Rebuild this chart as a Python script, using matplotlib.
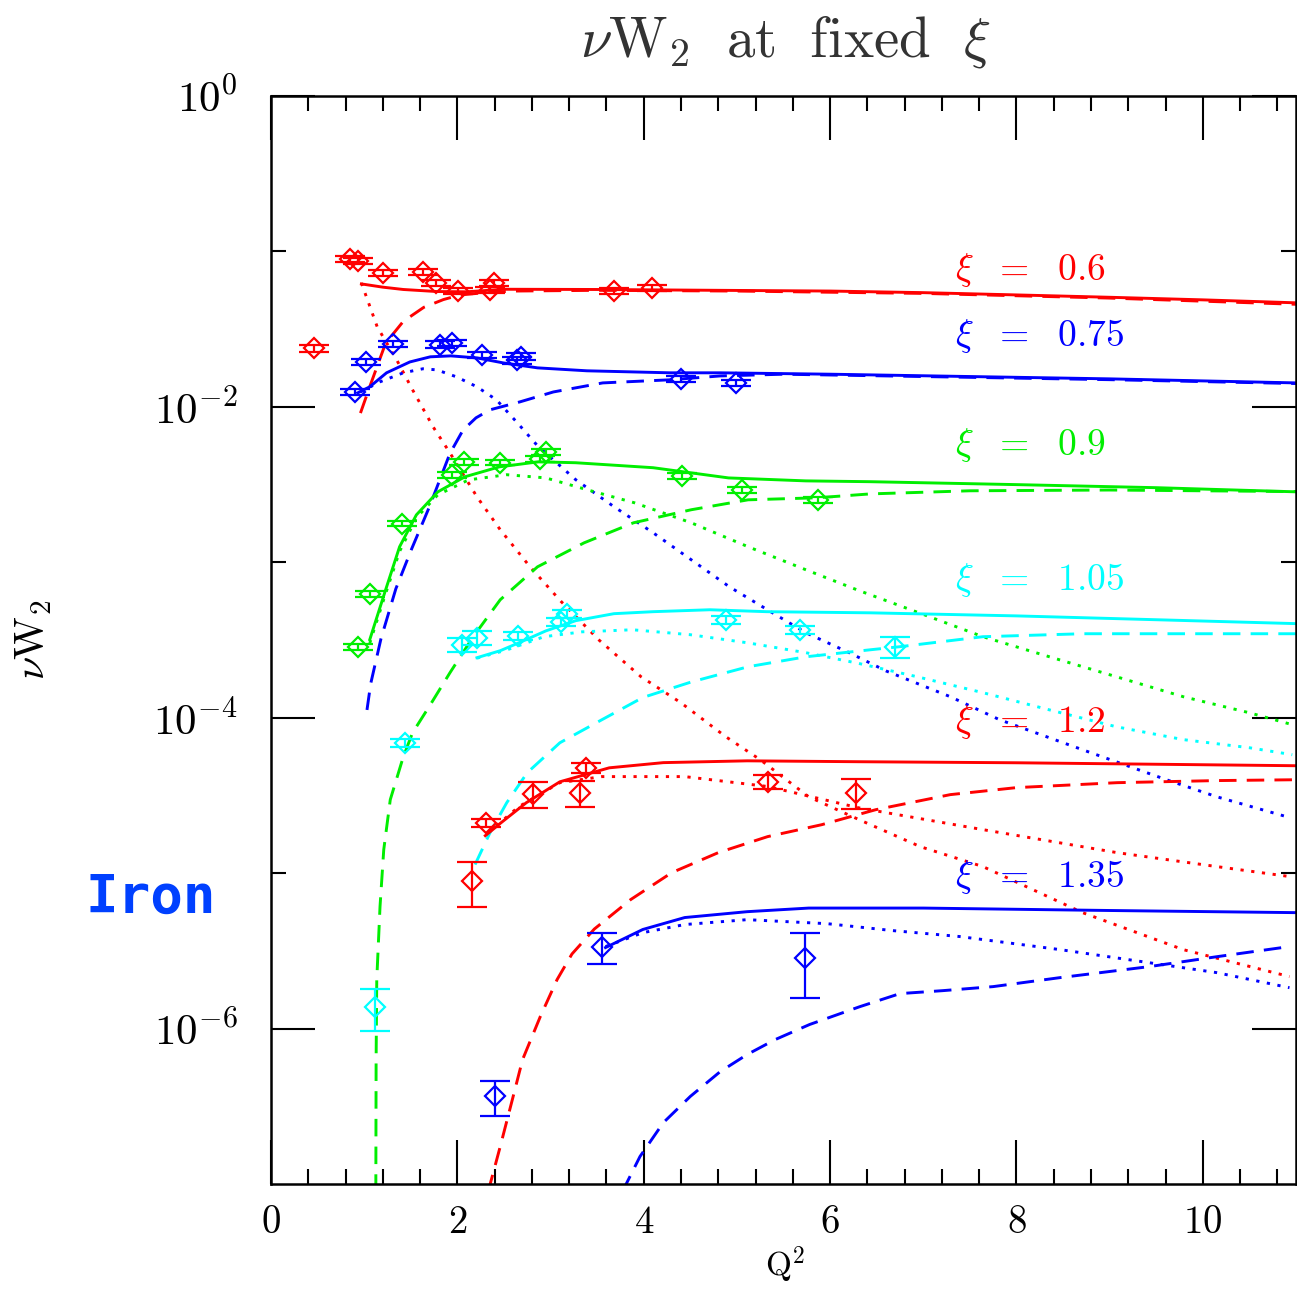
import matplotlib
matplotlib.use("Agg")
import matplotlib.pyplot as plt
from matplotlib.ticker import MultipleLocator, FixedLocator, NullFormatter

plt.rcParams["mathtext.fontset"] = "cm"

RED, BLUE, GREEN, CYAN = "#ff0000", "#0000ff", "#00ee00", "#00ffff"

# ---- data points (Q^2, nu W2, relative error) ----
x_06 = [0.46, 0.85, 0.93, 1.20, 1.63, 1.77, 2.01, 2.35, 2.39, 3.68, 4.09]
y_06 = [0.0239, 0.0895, 0.0869, 0.0728, 0.0738, 0.0627, 0.0557, 0.0565, 0.0627, 0.0557, 0.0582]
e_06 = [0.05] * 11

x_075 = [0.90, 1.02, 1.31, 1.81, 1.94, 2.26, 2.64, 2.68, 4.40, 4.99]
y_075 = [0.01248, 0.01946, 0.0254, 0.0251, 0.0258, 0.0216, 0.0200, 0.0210, 0.01514, 0.01426]
e_075 = [0.05] * 10

x_09 = [0.93, 1.06, 1.41, 1.94, 2.07, 2.46, 2.89, 2.95, 4.41, 5.05, 5.87]
y_09 = [2.86e-4, 6.27e-4, 1.77e-3, 3.65e-3, 4.43e-3, 4.37e-3, 4.63e-3, 5.14e-3, 3.60e-3, 2.92e-3, 2.52e-3]
e_09 = [0.04] * 11

x_105 = [1.12, 1.44, 2.05, 2.21, 2.65, 3.11, 3.18, 4.88, 5.68, 6.70]
y_105 = [1.38e-6, 6.9e-5, 2.94e-4, 3.27e-4, 3.37e-4, 4.14e-4, 4.67e-4, 4.27e-4, 3.68e-4, 2.86e-4]
e_105 = [0.30, 0.06, 0.10, 0.10, 0.06, 0.06, 0.06, 0.06, 0.06, 0.15]

x_12 = [2.16, 2.31, 2.81, 3.32, 3.38, 5.33, 6.28]
y_12 = [8.95e-6, 2.11e-5, 3.24e-5, 3.30e-5, 4.77e-5, 3.87e-5, 3.30e-5]
e_12 = [0.32, 0.06, 0.19, 0.19, 0.07, 0.10, 0.22]

x_135 = [2.40, 3.55, 5.73]
y_135 = [3.66e-7, 3.37e-6, 2.86e-6]
e_135 = [0.25, 0.23, 0.45]

# ---- model curves: solid = total, dotted / dashed = components ----
s06_x = [0.97, 1.2, 1.42, 1.78, 2.1, 2.5, 3.5, 4.8, 6, 7, 8, 9, 10, 11]
s06_y = [0.0618, 0.0589, 0.0569, 0.0552, 0.0550, 0.0571, 0.0569, 0.0562, 0.0556,
         0.0543, 0.0525, 0.0507, 0.0488, 0.0467]
d06_x = [0.96, 1.06, 1.23, 1.42, 1.64, 1.85, 2.03, 2.3, 2.6, 3.5, 5, 7, 9, 11]
d06_y = [0.00912, 0.01349, 0.0257, 0.0355, 0.0437, 0.0490, 0.0525, 0.0543, 0.0556,
         0.0562, 0.0556, 0.0537, 0.0501, 0.0457]
o06_x = [0.97, 1.14, 1.35, 1.52, 1.74, 1.92, 2.21, 2.46, 2.78, 3.11, 3.52, 3.97, 4.40,
         4.88, 5.25, 5.77, 6.31, 6.97, 7.64, 8.71, 9.79, 10.93]
o06_y = [0.0627, 0.0327, 0.0200, 0.01285, 0.00743, 0.00506, 0.00264, 0.00162, 9.35e-4,
         5.62e-4, 3.16e-4, 1.837e-4, 1.247e-4, 7.55e-5, 5.37e-5, 3.10e-5, 2.21e-5,
         1.479e-5, 1.102e-5, 5.57e-6, 3.22e-6, 2.16e-6]

s075_x = [0.93, 1.06, 1.24, 1.49, 1.71, 1.93, 2.21, 2.49, 2.86, 3.39, 4.28, 4.82, 6, 7, 8, 9, 10, 11]
s075_y = [0.01230, 0.01346, 0.01656, 0.01945, 0.02099, 0.02128, 0.02065, 0.01919, 0.01782,
          0.01706, 0.01656, 0.01656, 0.01622, 0.01585, 0.01549, 0.01514, 0.01469, 0.01426]
d075_x = [1.03, 1.07, 1.18, 1.34, 1.51, 1.70, 1.92, 2.06, 2.2, 2.35, 2.67, 3.03, 3.56,
          4.28, 4.82, 5.5, 7, 9, 11]
d075_y = [1.122e-4, 1.656e-4, 3.22e-4, 6.76e-4, 1.222e-3, 2.275e-3, 5.01e-3, 7.08e-3,
          8.5e-3, 9.57e-3, 0.01076, 0.01247, 0.01426, 0.01493, 0.01581, 0.01622,
          0.01567, 0.01496, 0.01413]
o075_x = [0.96, 1.17, 1.42, 1.63, 1.78, 1.99, 2.21, 2.42, 2.64, 2.86, 3.27, 3.68, 4.10,
          4.51, 4.92, 5.33, 5.74, 6.2, 6.6, 7.29, 7.82, 8.71, 9.61, 10.15, 10.93]
o075_y = [0.01247, 0.01449, 0.01656, 0.01758, 0.01730, 0.01560, 0.01346, 0.01109, 0.00794,
          0.00562, 0.00340, 0.00228, 0.00155, 1.038e-3, 6.95e-4, 4.94e-4, 3.52e-4,
          2.63e-4, 2.00e-4, 1.365e-4, 9.70e-5, 6.22e-5, 3.99e-5, 3.10e-5, 2.28e-5]

s09_x = [1.06, 1.22, 1.38, 1.56, 1.79, 2.08, 2.45, 2.87, 3.27, 4.10, 4.91, 5.74, 6.43, 8, 9.5, 11]
s09_y = [3.18e-4, 6.37e-4, 1.259e-3, 2.018e-3, 2.838e-3, 3.548e-3, 4.11e-3, 4.43e-3,
         4.37e-3, 4.06e-3, 3.49e-3, 3.34e-3, 3.30e-3, 3.16e-3, 3.02e-3, 2.84e-3]
d09_x = [1.125, 1.128, 1.135, 1.17, 1.21, 1.28, 1.42, 1.52, 1.71, 1.92, 2.17, 2.46, 2.86,
         3.36, 3.89, 4.51, 5.12, 5.86, 6.43, 7.5, 9, 11]
d09_y = [8.91e-8, 6.31e-7, 2.065e-6, 6.10e-6, 1.416e-5, 2.97e-5, 5.61e-5, 8.02e-5,
         1.213e-4, 1.945e-4, 3.32e-4, 5.74e-4, 9.35e-4, 1.334e-3, 1.795e-3, 2.178e-3,
         2.523e-3, 2.600e-3, 2.754e-3, 2.884e-3, 2.917e-3, 2.851e-3]
o09_x = [1.06, 1.22, 1.38, 1.56, 1.79, 2.12, 2.53, 2.95, 3.40, 3.90, 4.51, 5.12, 5.74,
         6.3, 6.93, 7.64, 8.35, 9.07, 9.79, 10.5, 10.96]
o09_y = [3.02e-4, 6.03e-4, 1.175e-3, 1.932e-3, 2.716e-3, 3.39e-3, 3.66e-3, 3.49e-3,
         2.92e-3, 2.415e-3, 1.795e-3, 1.259e-3, 8.95e-4, 6.61e-4, 4.79e-4, 3.32e-4,
         2.47e-4, 1.837e-4, 1.365e-4, 1.076e-4, 9.02e-5]

s105_x = [2.21, 2.46, 2.66, 2.95, 3.27, 3.68, 4.10, 4.71, 5.32, 6.43, 8, 9.5, 11]
s105_y = [2.432e-4, 2.698e-4, 3.034e-4, 3.62e-4, 4.21e-4, 4.67e-4, 4.81e-4, 4.95e-4,
          4.81e-4, 4.73e-4, 4.52e-4, 4.27e-4, 4.03e-4]
d105_x = [2.19, 2.35, 2.53, 2.75, 3.10, 3.55, 3.99, 4.51, 5.12, 5.74, 6.43, 6.75, 7.64,
          8.71, 9.79, 11]
d105_y = [1.135e-5, 1.820e-5, 2.84e-5, 4.43e-5, 6.90e-5, 9.70e-5, 1.349e-4, 1.698e-4,
          2.128e-4, 2.466e-4, 2.735e-4, 2.864e-4, 3.32e-4, 3.47e-4, 3.47e-4, 3.47e-4]
o105_x = [2.21, 2.52, 2.93, 3.34, 3.88, 4.50, 5.12, 5.74, 6.3, 6.93, 7.64, 8.35, 9.07,
          9.79, 10.5, 10.96]
o105_y = [2.415e-4, 2.716e-4, 3.32e-4, 3.57e-4, 3.68e-4, 3.42e-4, 3.03e-4, 2.62e-4,
          2.24e-4, 1.837e-4, 1.449e-4, 1.125e-4, 8.75e-5, 7.23e-5, 6.41e-5, 5.78e-5]

s12_x = [2.30, 2.47, 2.74, 3.10, 3.63, 4.21, 5.11, 6.31, 8, 11]
s12_y = [1.742e-5, 2.113e-5, 2.84e-5, 3.87e-5, 4.76e-5, 5.14e-5, 5.28e-5, 5.21e-5,
         5.13e-5, 4.91e-5]
d12_x = [2.33, 2.46, 2.59, 2.70, 2.89, 3.07, 3.23, 3.47, 3.86, 4.30, 4.80, 5.33, 5.91,
         6.49, 7.29, 8.0, 9.08, 10.15, 11]
d12_y = [8.91e-8, 1.742e-7, 3.49e-7, 6.32e-7, 1.194e-6, 2.065e-6, 3.02e-6, 4.37e-6,
         6.76e-6, 1.007e-5, 1.355e-5, 1.718e-5, 2.05e-5, 2.56e-5, 3.20e-5, 3.55e-5,
         3.82e-5, 3.94e-5, 3.99e-5]
o12_x = [2.33, 2.66, 3.10, 3.55, 4.44, 5.33, 6.31, 7.64, 9.08, 10.15, 10.93]
o12_y = [1.820e-5, 2.679e-5, 3.82e-5, 4.18e-5, 4.18e-5, 3.61e-5, 2.63e-5, 1.905e-5,
         1.355e-5, 1.102e-5, 9.51e-6]

s135_x = [3.59, 3.99, 4.44, 5.11, 5.77, 7, 9, 11]
s135_y = [3.32e-6, 4.34e-6, 5.18e-6, 5.65e-6, 5.96e-6, 5.96e-6, 5.75e-6, 5.57e-6]
d135_x = [3.77, 3.96, 4.21, 4.50, 4.82, 5.11, 5.41, 5.78, 6.32, 6.75, 7.21, 7.75, 8.47,
          9.43, 10.15, 10.93]
d135_y = [8.91e-8, 1.503e-7, 2.48e-7, 3.66e-7, 5.28e-7, 6.81e-7, 8.49e-7, 1.062e-6,
          1.384e-6, 1.679e-6, 1.754e-6, 1.862e-6, 2.128e-6, 2.506e-6, 2.90e-6, 3.37e-6]
o135_x = [3.59, 3.99, 4.44, 5.11, 5.97, 6.67, 7.39, 8.47, 9.43, 10.15, 10.93]
o135_y = [3.37e-6, 4.14e-6, 4.67e-6, 5.02e-6, 4.73e-6, 4.27e-6, 3.91e-6, 3.22e-6,
          2.65e-6, 2.29e-6, 1.832e-6]

xi_labels = ["0.6", "0.75", "0.9", "1.05", "1.2", "1.35"]

series = [
    (RED, x_06, y_06, e_06, (s06_x, s06_y), (d06_x, d06_y), (o06_x, o06_y), 0.0760),
    (BLUE, x_075, y_075, e_075, (s075_x, s075_y), (d075_x, d075_y), (o075_x, o075_y), 0.0286),
    (GREEN, x_09, y_09, e_09, (s09_x, s09_y), (d09_x, d09_y), (o09_x, o09_y), 5.70e-3),
    (CYAN, x_105, y_105, e_105, (s105_x, s105_y), (d105_x, d105_y), (o105_x, o105_y), 7.71e-4),
    (RED, x_12, y_12, e_12, (s12_x, s12_y), (d12_x, d12_y), (o12_x, o12_y), 9.42e-5),
    (BLUE, x_135, y_135, e_135, (s135_x, s135_y), (d135_x, d135_y), (o135_x, o135_y), 9.48e-6),
]

fig = plt.figure(figsize=(12.97, 12.92), dpi=100)
ax = fig.add_axes([271 / 1297, 1 - 1184 / 1292, 1025 / 1297, 1088 / 1292])
ax.set_yscale("log")

DASH = (0, (6, 3.5))
DOT = (0, (1.1, 2.6))
for (c, px, py, pe, solid, dashed, dotted, ylab), lab in zip(series, xi_labels):
    ax.plot(*solid, color=c, lw=2.1, ls="-")
    ax.plot(*dashed, color=c, lw=2.1, ls=DASH)
    ax.plot(*dotted, color=c, lw=2.1, ls=DOT)
    yerr = [yv * ev for yv, ev in zip(py, pe)]
    ax.errorbar(px, py, yerr=yerr, fmt="D", ms=10.5, mfc="none", mec=c, mew=1.6,
                ecolor=c, elinewidth=1.6, capsize=11, capthick=1.6, ls="none")
    ax.text(7.34, ylab, r"$\xi\ \ =\ \ %s$" % lab, color=c, fontsize=27,
            ha="left", va="center")

ax.set_xlim(0, 11)
ax.set_ylim(1e-7, 1)

ax.set_xticks([0, 2, 4, 6, 8, 10])
ax.set_xticklabels([r"$%d$" % v for v in [0, 2, 4, 6, 8, 10]])
ax.xaxis.set_minor_locator(MultipleLocator(0.4))
ax.set_yticks([1, 1e-2, 1e-4, 1e-6])
ax.set_yticklabels([r"$10^{0}$", r"$10^{-2}$", r"$10^{-4}$", r"$10^{-6}$"])
ax.yaxis.set_minor_locator(FixedLocator([1e-1, 1e-3, 1e-5]))
ax.yaxis.set_minor_formatter(NullFormatter())

ax.tick_params(which="both", direction="in", top=True, right=True, width=1.5,
               colors="black")
ax.tick_params(axis="x", which="major", length=32, pad=14, labelsize=28)
ax.tick_params(axis="y", which="major", length=32, pad=24, labelsize=31)
ax.tick_params(which="minor", length=11)
for sp in ax.spines.values():
    sp.set_linewidth(1.8)

ax.set_xlabel(r"$\mathrm{Q}^2$", fontsize=24)
ax.xaxis.set_label_coords(0.501, -0.056)
ax.set_ylabel(r"$\nu\mathrm{W}_2$", fontsize=30)
ax.yaxis.set_label_coords(-0.212, 0.5)

fig.text(785 / 1297, 1 - 42 / 1292, r"$\nu\mathrm{W}_2\ \ \mathrm{at}\ \ \mathrm{fixed}\ \ \xi$",
         fontsize=41, ha="center", va="center", color="#333333")
fig.text(151 / 1297, 1 - 898 / 1292, "Iron", fontsize=39, fontweight="bold",
         family="DejaVu Sans Mono", color="#0040ff", ha="center", va="center")

fig.savefig("out.png", dpi=100)
